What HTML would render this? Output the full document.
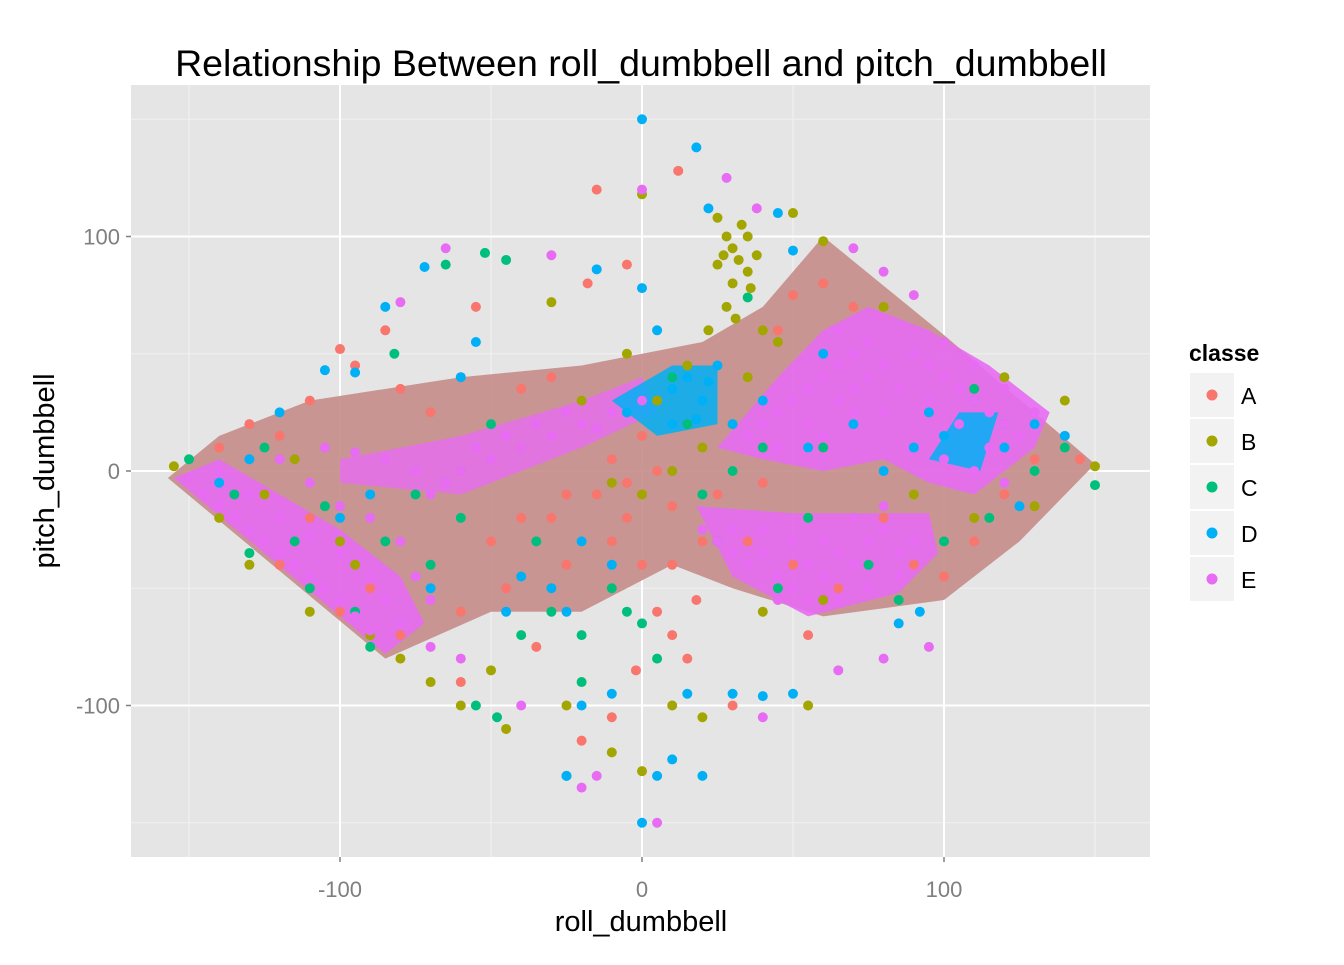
<!DOCTYPE html>
<html><head><meta charset="utf-8"><style>
body{margin:0;background:#fff}
svg text{font-family:"Liberation Sans",Arial,sans-serif}
</style></head><body>
<svg id="chart" width="1344" height="960" xmlns="http://www.w3.org/2000/svg">
<rect x="0" y="0" width="1344" height="960" fill="#fff"/>
<rect x="131" y="85" width="1019" height="772" fill="#e5e5e5"/>
<g id="grid"></g>
<g id="regions"></g>
<g id="points"></g>
<g id="axes"></g>
<text x="641" y="76" font-size="37.5" text-anchor="middle" fill="#000">Relationship Between roll_dumbbell and pitch_dumbbell</text>
<text x="641" y="931" font-size="29" text-anchor="middle" fill="#000">roll_dumbbell</text>
<text x="0" y="0" font-size="29" text-anchor="middle" fill="#000" transform="translate(54,471) rotate(-90)">pitch_dumbbell</text>
<g id="legend">
<text x="1189" y="361" font-size="23" font-weight="bold" fill="#000">classe</text>
</g>
</svg>
<script>
const NS='http://www.w3.org/2000/svg';
const classes=['A','B','C','D','E'];
const colors=['#F8766D','#A3A500','#00BF7D','#00B0F6','#E76BF3'];
const xTicks=[-100,0,100];
const yTicks=[-100,0,100];
const xMinor=[-150,-50,50,150];
const yMinor=[-150,-50,50,150];
const ptsA=[[-150,-3],[-140,10],[-130,20],[-120,15],[-110,30],[-100,52],[-95,45],[-85,60],[-80,35],[-70,25],[-60,40],[-55,70],[-40,35],[-30,40],[-20,20],[-15,120],[-10,5],[-5,-20],[0,-40],[5,-60],[10,-70],[12,128],[15,-80],[20,-30],[25,-10],[35,-30],[40,-5],[45,60],[50,75],[55,-70],[60,80],[70,70],[80,-20],[90,-40],[100,-45],[110,-30],[120,-10],[130,5],[145,5],[-120,-40],[-110,-20],[-100,-60],[-90,-50],[-80,-70],[-60,-60],[-50,-30],[-45,-50],[-30,-20],[-25,-10],[-20,-115],[-10,-105],[-2,-85],[10,-40],[18,-55],[30,-100],[50,-40],[65,-50],[5,0],[0,15],[-10,-30],[-35,-75],[-60,-90],[-5,88],[-18,80],[-15,-10],[-5,-5],[10,-15],[-25,-40],[-40,-20]];
const ptsB=[[-155,2],[-140,-20],[-125,-10],[-115,5],[-100,-30],[-90,-70],[-80,-80],[-70,-90],[-60,-100],[-50,-85],[-45,-110],[-30,72],[-25,-100],[-10,-120],[0,118],[0,-128],[10,-100],[20,-105],[25,108],[28,100],[30,95],[32,90],[35,85],[30,80],[25,88],[35,100],[38,92],[28,70],[40,60],[45,55],[35,40],[30,20],[20,10],[10,0],[0,-10],[-10,-5],[50,110],[55,-100],[70,-20],[90,-10],[110,-20],[130,-15],[150,2],[140,30],[120,40],[100,55],[80,70],[60,98],[-110,-60],[-95,-40],[-130,-40],[-60,0],[-40,10],[-20,30],[-5,50],[5,30],[15,45],[22,60],[40,-60],[60,-55],[33,105],[27,92],[36,78],[31,65]];
const ptsC=[[-150,5],[-135,-10],[-125,10],[-115,-30],[-105,-15],[-95,-60],[-85,-30],[-82,50],[-75,-10],[-65,88],[-52,93],[-45,90],[-55,-100],[-48,-105],[-40,-70],[-25,-130],[-20,-90],[-10,-50],[-5,-60],[5,-80],[10,40],[15,20],[25,-30],[35,74],[45,-50],[55,-20],[60,10],[75,-40],[85,-55],[100,-30],[115,-20],[130,0],[140,10],[150,-6],[120,20],[110,35],[-130,-35],[-110,-50],[-90,-75],[-70,-40],[-60,-20],[-30,-60],[-20,-70],[0,-65],[20,-10],[30,0],[40,10],[-50,20],[-35,-30]];
const ptsD=[[0,150],[18,138],[22,112],[45,110],[-130,5],[-120,25],[-105,43],[-100,-20],[-95,42],[-85,70],[-72,87],[-60,40],[-55,55],[-40,-45],[-30,-50],[-25,-60],[-15,86],[0,78],[5,60],[10,35],[15,40],[20,30],[25,45],[10,20],[0,30],[-5,25],[18,22],[22,38],[-10,-95],[-20,-100],[-25,-130],[0,-150],[5,-130],[10,-123],[20,-130],[15,-95],[30,-95],[40,-96],[50,-95],[50,94],[60,50],[70,20],[80,0],[90,10],[95,25],[100,15],[110,30],[120,10],[125,-15],[130,20],[140,15],[85,-65],[92,-60],[-20,-30],[-10,-40],[-45,-60],[-70,-50],[-90,-10],[-140,-5],[30,20],[40,30],[55,10]];
const ptsE=[[-150,-3],[-145,-10],[-140,-15],[-135,-20],[-130,-25],[-125,-30],[-120,-35],[-115,-40],[-110,-45],[-105,-50],[-100,-55],[-95,-62],[-90,-68],[-140,0],[-130,-10],[-120,-20],[-110,-28],[-100,-35],[-90,-45],[-85,-55],[-80,-65],[-120,5],[-110,-5],[-100,-15],[-90,-20],[-80,-30],[-75,-45],[-70,-55],[-70,-10],[-60,0],[-50,5],[-40,10],[-30,15],[-20,20],[-10,25],[0,30],[-55,10],[-45,15],[-35,20],[-25,25],[-15,18],[-65,-5],[-75,0],[-85,5],[-95,8],[-105,10],[35,15],[40,20],[45,25],[50,30],[55,35],[60,40],[65,45],[70,50],[75,55],[65,30],[70,35],[75,40],[80,45],[55,20],[45,10],[60,15],[70,25],[80,25],[85,35],[90,50],[95,45],[100,40],[105,35],[110,30],[115,25],[120,20],[125,15],[100,55],[110,45],[120,35],[130,25],[95,30],[105,20],[115,10],[100,5],[110,0],[120,-5],[70,95],[80,85],[90,75],[65,60],[20,-25],[25,-30],[30,-35],[35,-40],[40,-35],[45,-45],[50,-50],[55,-40],[60,-45],[65,-35],[70,-40],[75,-30],[80,-25],[85,-35],[90,-30],[30,-25],[40,-25],[50,-30],[60,-30],[70,-20],[80,-15],[55,-55],[65,-55],[75,-50],[85,-45],[45,-55],[-65,95],[-80,72],[-40,-100],[-30,92],[0,120],[28,125],[38,112],[-15,-130],[-20,-135],[5,-150],[80,-80],[65,-85],[40,-105],[95,-75],[-60,-80],[-70,-75]];
const regionBase=[[-157,-3],[-140,15],[-110,30],[-60,40],[-20,45],[20,55],[40,70],[60,100],[100,58],[150,3],[125,-30],[100,-55],[60,-62],[30,-50],[10,-40],[-20,-60],[-50,-60],[-85,-80]];
const regionE1=[[-155,-3],[-140,5],[-100,-25],[-80,-45],[-72,-65],[-85,-78]];
const regionE2=[[-100,5],[-60,15],[-20,30],[0,40],[5,25],[-20,10],[-60,-10],[-100,-5]];
const regionE3=[[25,10],[45,40],[60,60],[75,70],[95,60],[115,45],[135,25],[130,10],[110,-10],[95,-5],[80,5],[60,0],[40,5]];
const regionE4=[[18,-15],[50,-18],[95,-18],[98,-35],[85,-52],[55,-62],[30,-45]];
const regionD1=[[-10,30],[10,45],[25,45],[25,20],[5,15]];
const regionD2=[[95,5],[105,25],[118,25],[112,0]];

const sx=v=>642+v*3.02;
const sy=v=>471-v*2.345;
function mk(tag,attrs,parent){const e=document.createElementNS(NS,tag);for(const k in attrs)e.setAttribute(k,attrs[k]);parent.appendChild(e);return e;}
const grid=document.getElementById('grid');
xMinor.forEach(v=>{const l=mk('line',{x1:sx(v),x2:sx(v),y1:85,y2:857,stroke:'#f2f2f2','stroke-width':1},grid);

});
yMinor.forEach(v=>{const l=mk('line',{x1:131,x2:1150,y1:sy(v),y2:sy(v),stroke:'#f2f2f2','stroke-width':1},grid);

});
xTicks.forEach(v=>{const l=mk('line',{x1:sx(v),x2:sx(v),y1:85,y2:857,stroke:'#fff','stroke-width':2},grid);

});
yTicks.forEach(v=>{const l=mk('line',{x1:131,x2:1150,y1:sy(v),y2:sy(v),stroke:'#fff','stroke-width':2},grid);

});
const axes=document.getElementById('axes');
xTicks.forEach(v=>{mk('line',{x1:sx(v),x2:sx(v),y1:857,y2:862,stroke:'#7f7f7f','stroke-width':1.5},axes);
const t=mk('text',{x:sx(v),y:897,'font-size':22,'text-anchor':'middle',fill:'#7f7f7f'},axes);t.textContent=v;

});
yTicks.forEach(v=>{mk('line',{x1:126,x2:131,y1:sy(v),y2:sy(v),stroke:'#7f7f7f','stroke-width':1.5},axes);
const t=mk('text',{x:120,y:sy(v)+8,'font-size':22,'text-anchor':'end',fill:'#7f7f7f'},axes);t.textContent=v;

});
const reg=document.getElementById('regions');
function poly(pts,fill,op,name){const p=mk('polygon',{points:pts.map(q=>sx(q[0])+','+sy(q[1])).join(' '),fill:fill,opacity:op},reg);

}
poly(regionBase,'#c58c8a',0.9,'density-region-mixed');
poly(regionE1,colors[4],0.9,'density-region-e');
poly(regionE2,colors[4],0.8,'density-region-e');
poly(regionE3,colors[4],0.9,'density-region-e');
poly(regionE4,colors[4],0.9,'density-region-e');
poly(regionD1,colors[3],0.85,'density-region-d');
poly(regionD2,colors[3],0.85,'density-region-d');
const pg=document.getElementById('points');
[ptsA,ptsB,ptsC,ptsD,ptsE].forEach((arr,i)=>{arr.forEach(p=>{const c=mk('circle',{cx:sx(p[0]),cy:sy(p[1]),r:5,fill:colors[i]},pg);

});});
const lg=document.getElementById('legend');
classes.forEach((c,i)=>{const y=373+i*46;
const r=mk('rect',{x:1190,y:y,width:44,height:44,fill:'#f2f2f2'},lg);


mk('circle',{cx:1212,cy:y+22,r:5.5,fill:colors[i]},lg);
const t=mk('text',{x:1241,y:y+31,'font-size':23,fill:'#000'},lg);t.textContent=c;

});
</script>
</body></html>
